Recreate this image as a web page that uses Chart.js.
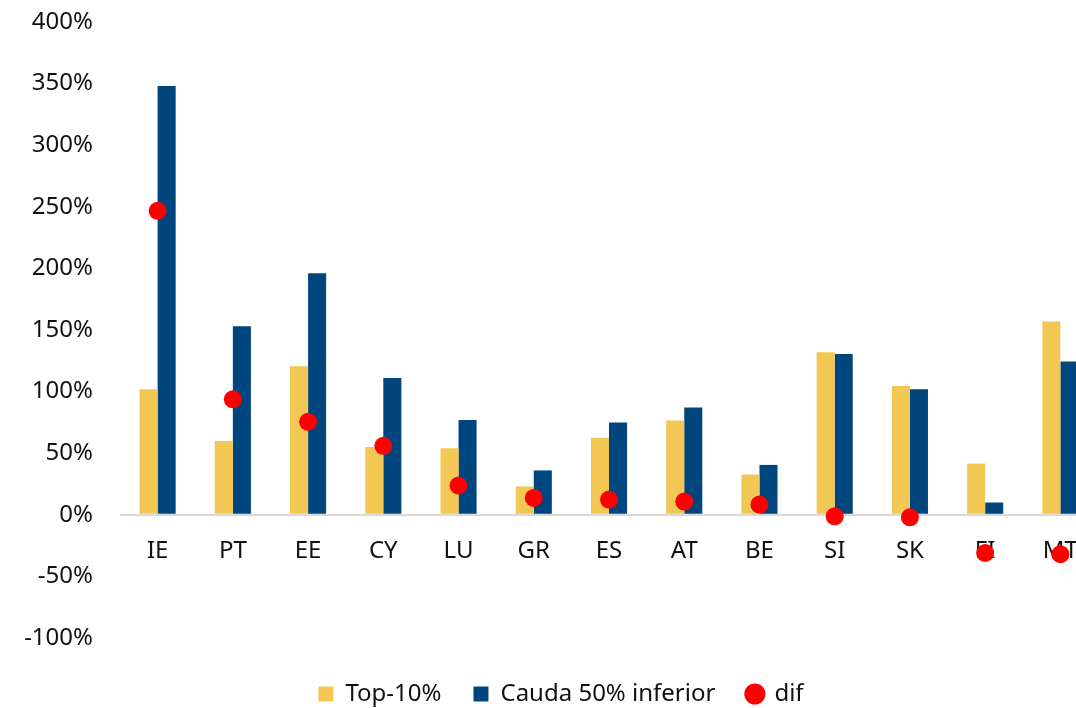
<!DOCTYPE html>
<html>
<head>
<meta charset="utf-8">
<script src="https://cdn.jsdelivr.net/npm/chart.js@4.4.1/dist/chart.umd.min.js"></script>
<style>
  html, body { margin: 0; padding: 0; background: #fff; overflow: hidden; width: 1076px; height: 708px; }
  canvas { display: block; }
</style>
</head>
<body>
<canvas id="chart" width="1122" height="716"></canvas>
<script>
// valores (%)
const categories = ['IE', 'PT', 'EE', 'CY', 'LU', 'GR', 'ES', 'AT', 'BE', 'SI', 'SK', 'FI', 'MT'];
const top10 = [102, 60, 120.5, 55, 54, 23, 62.5, 76.5, 32.7, 132, 104.5, 41.6, 157];
const cauda50 = [348, 153, 196, 111, 77, 36, 75, 87, 40.5, 130.5, 102, 10, 124.5];
const dif = [246.7, 93.7, 75.5, 56, 23.7, 13.7, 12.4, 10.7, 8.3, -1.2, -2, -31, -32];

const FONT = "'Noto Sans', 'Open Sans', sans-serif";
const TEXT = '#111111';
const FS = 24;

new Chart(document.getElementById('chart'), {
  data: {
    labels: categories,
    datasets: [
      { type: 'bar', label: 'Top-10%', data: top10, backgroundColor: '#F2C754', pointStyle: 'rect', order: 1,
        categoryPercentage: 0.48, barPercentage: 1.0 },
      { type: 'bar', label: 'Cauda 50% inferior', data: cauda50, backgroundColor: '#00467E', pointStyle: 'rect', order: 1,
        categoryPercentage: 0.48, barPercentage: 1.0 },
      { type: 'line', label: 'dif', data: dif, showLine: false, order: 0,
        pointStyle: 'circle', pointRadius: 9, pointHoverRadius: 9,
        backgroundColor: '#FF0000', borderColor: '#FF0000', borderWidth: 0 },
    ],
  },
  options: {
    responsive: false,
    animation: false,
    layout: { padding: { top: 22, left: 24, right: 24, bottom: 0 } },
    plugins: {
      tooltip: { enabled: false },
      legend: {
        position: 'bottom',
        title: { display: true, text: '', font: { size: 10 }, padding: 0 },
        labels: {
          usePointStyle: true, boxHeight: 15, boxWidth: 15, padding: 32,
          color: TEXT, font: { family: FONT, size: FS },
          sort: (a, b) => a.datasetIndex - b.datasetIndex,
        },
      },
    },
    scales: {
      x: {
        position: { y: 0 },
        z: 1,
        grid: { display: false, drawTicks: false },
        border: { display: false },
        ticks: { color: TEXT, font: { family: FONT, size: FS }, padding: 22, autoSkip: false, maxRotation: 0 },
      },
      y: {
        min: -100, max: 400,
        afterFit: (s) => { s.width = 96; s.paddingTop = 0; s.paddingBottom = 0; },
        grid: {
          drawTicks: false,
          color: (c) => (c.tick && c.tick.value === 0 ? '#D9D9D9' : 'rgba(0,0,0,0)'),
          lineWidth: 2,
        },
        border: { display: false },
        ticks: { stepSize: 50, padding: 27, color: TEXT, font: { family: FONT, size: FS }, callback: (v) => v + '%' },
      },
    },
  },
});
</script>
</body>
</html>
